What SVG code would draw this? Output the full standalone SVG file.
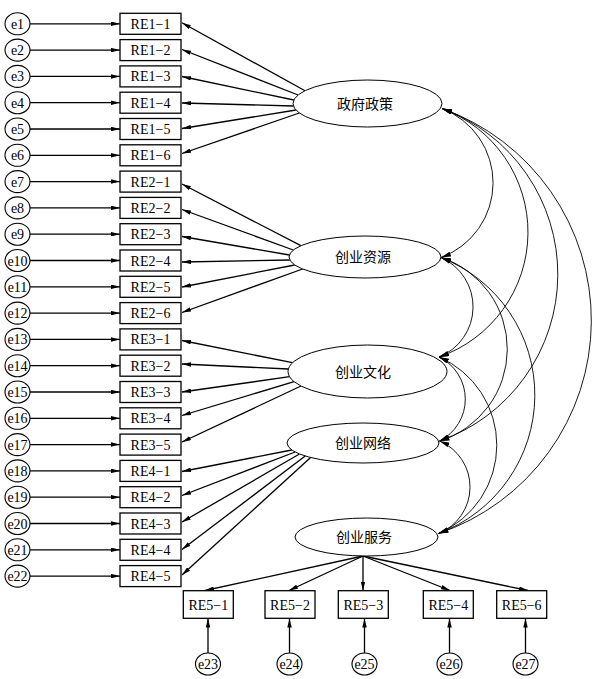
<svg xmlns="http://www.w3.org/2000/svg" width="592" height="679" viewBox="0 0 592 679">
<style>
text{font-family:"Liberation Serif","Noto Sans CJK SC",serif;font-size:14px;fill:#000;text-anchor:middle}
.cn{font-family:"Noto Sans CJK SC","Liberation Serif",sans-serif;font-size:14px}
.box{fill:#fff;stroke:#000;stroke-width:1.3}
.err{fill:#fff;stroke:#000;stroke-width:1.1}
.lat{fill:#fff;stroke:#000;stroke-width:1}
.ld{stroke:#000;stroke-width:1.3;fill:none;marker-end:url(#ah)}
.cov{stroke:#000;stroke-width:0.9;fill:none;marker-start:url(#ah2);marker-end:url(#ah2)}
</style>
<defs>
<marker id="ah" viewBox="0 0 10 5" refX="10" refY="2.5" markerWidth="9" markerHeight="4.5" markerUnits="userSpaceOnUse" orient="auto-start-reverse"><path d="M0,0 L10,2.5 L0,5 z" fill="#000"/></marker>
<marker id="ah2" viewBox="0 0 10 5" refX="10" refY="2.5" markerWidth="10" markerHeight="5" markerUnits="userSpaceOnUse" orient="auto-start-reverse"><path d="M0,0 L10,2.5 L0,5 z" fill="#000"/></marker>
</defs>
<g id="connectors">
<g id="error-arrows">
<line class="ld" x1="30" y1="23.8" x2="120" y2="23.8"/>
<line class="ld" x1="30" y1="50.1" x2="120" y2="50.1"/>
<line class="ld" x1="30" y1="76.4" x2="120" y2="76.4"/>
<line class="ld" x1="30" y1="102.7" x2="120" y2="102.7"/>
<line class="ld" x1="30" y1="129" x2="120" y2="129"/>
<line class="ld" x1="30" y1="155.3" x2="120" y2="155.3"/>
<line class="ld" x1="30" y1="181.6" x2="120" y2="181.6"/>
<line class="ld" x1="30" y1="207.9" x2="120" y2="207.9"/>
<line class="ld" x1="30" y1="234.2" x2="120" y2="234.2"/>
<line class="ld" x1="30" y1="260.5" x2="120" y2="260.5"/>
<line class="ld" x1="30" y1="286.8" x2="120" y2="286.8"/>
<line class="ld" x1="30" y1="313.1" x2="120" y2="313.1"/>
<line class="ld" x1="30" y1="339.4" x2="120" y2="339.4"/>
<line class="ld" x1="30" y1="365.7" x2="120" y2="365.7"/>
<line class="ld" x1="30" y1="392" x2="120" y2="392"/>
<line class="ld" x1="30" y1="418.3" x2="120" y2="418.3"/>
<line class="ld" x1="30" y1="444.6" x2="120" y2="444.6"/>
<line class="ld" x1="30" y1="470.9" x2="120" y2="470.9"/>
<line class="ld" x1="30" y1="497.2" x2="120" y2="497.2"/>
<line class="ld" x1="30" y1="523.5" x2="120" y2="523.5"/>
<line class="ld" x1="30" y1="549.8" x2="120" y2="549.8"/>
<line class="ld" x1="30" y1="576.1" x2="120" y2="576.1"/>
<line class="ld" x1="208" y1="653" x2="208" y2="618.5"/>
<line class="ld" x1="289.5" y1="653" x2="289.5" y2="618.5"/>
<line class="ld" x1="364.5" y1="653" x2="364.5" y2="618.5"/>
<line class="ld" x1="449.5" y1="653" x2="449.5" y2="618.5"/>
<line class="ld" x1="525.5" y1="653" x2="525.5" y2="618.5"/>
</g>
<g id="loadings">
<line class="ld" x1="305" y1="90.7" x2="182" y2="22.8"/>
<line class="ld" x1="298.1" y1="95" x2="182" y2="49.5"/>
<line class="ld" x1="293.8" y1="100" x2="182" y2="76.5"/>
<line class="ld" x1="293.4" y1="106" x2="182" y2="103"/>
<line class="ld" x1="295.9" y1="110" x2="182" y2="128.5"/>
<line class="ld" x1="299.3" y1="113" x2="182" y2="153.5"/>
<line class="ld" x1="300.9" y1="245.7" x2="182" y2="184"/>
<line class="ld" x1="293.3" y1="250" x2="182" y2="209.5"/>
<line class="ld" x1="289.4" y1="255" x2="182" y2="236.5"/>
<line class="ld" x1="289.8" y1="260" x2="182" y2="262"/>
<line class="ld" x1="294.7" y1="265" x2="182" y2="287"/>
<line class="ld" x1="302.6" y1="269" x2="182" y2="312.5"/>
<line class="ld" x1="292.5" y1="362.7" x2="182" y2="340.5"/>
<line class="ld" x1="288.3" y1="369" x2="182" y2="364"/>
<line class="ld" x1="289.6" y1="376.7" x2="182" y2="392"/>
<line class="ld" x1="294.1" y1="381.7" x2="182" y2="415.5"/>
<line class="ld" x1="301" y1="386" x2="182" y2="442"/>
<line class="ld" x1="291.8" y1="450" x2="182" y2="471.5"/>
<line class="ld" x1="295.1" y1="452" x2="182" y2="495.5"/>
<line class="ld" x1="299.5" y1="454" x2="182" y2="522"/>
<line class="ld" x1="305.2" y1="456" x2="182" y2="549.5"/>
<line class="ld" x1="310.6" y1="457.5" x2="182" y2="575"/>
<line class="ld" x1="363" y1="556" x2="205" y2="590.5"/>
<line class="ld" x1="363" y1="556" x2="289" y2="590.5"/>
<line class="ld" x1="363" y1="556" x2="363" y2="590.5"/>
<line class="ld" x1="363" y1="556" x2="450" y2="590.5"/>
<line class="ld" x1="363" y1="556" x2="528" y2="590.5"/>
</g>
<g id="covariances">
<path class="cov" d="M442,108.5 A79.6,79.6 0 0 1 441,257.5"/>
<path class="cov" d="M442,108.5 A132,132 0 0 1 439,357"/>
<path class="cov" d="M442,108.5 A176.6,176.6 0 0 1 439.5,441"/>
<path class="cov" d="M442,108.5 A225,225 0 0 1 438.5,533.5"/>
<path class="cov" d="M441,257.5 A54,54 0 0 1 439,357"/>
<path class="cov" d="M441,257.5 A96.3,96.3 0 0 1 439.5,441"/>
<path class="cov" d="M441,257.5 A147.7,147.7 0 0 1 438.5,533.5"/>
<path class="cov" d="M439,357 A46.9,46.9 0 0 1 439.5,441"/>
<path class="cov" d="M439,357 A96.1,96.1 0 0 1 438.5,533.5"/>
<path class="cov" d="M439.5,441 A50,50 0 0 1 438.5,533.5"/>
</g>
</g>
<g id="latent-政府政策"><ellipse class="lat" cx="367.5" cy="103.5" rx="74.5" ry="23.5"/><text class="cn" x="365" y="108.5">政府政策</text></g>
<g id="latent-创业资源"><ellipse class="lat" cx="365" cy="257" rx="76" ry="21"/><text class="cn" x="363" y="262">创业资源</text></g>
<g id="latent-创业文化"><ellipse class="lat" cx="367.5" cy="371.5" rx="79.5" ry="26.5"/><text class="cn" x="363" y="376.5">创业文化</text></g>
<g id="latent-创业网络"><ellipse class="lat" cx="363" cy="443" rx="76" ry="20"/><text class="cn" x="363" y="448">创业网络</text></g>
<g id="latent-创业服务"><ellipse class="lat" cx="366.5" cy="537" rx="71.5" ry="19"/><text class="cn" x="364" y="542">创业服务</text></g>
<g id="RE1-1"><rect class="box" x="120" y="13.3" width="61" height="21"/><text x="150.5" y="28.8">RE1−1</text></g>
<g id="RE1-2"><rect class="box" x="120" y="39.6" width="61" height="21"/><text x="150.5" y="55.1">RE1−2</text></g>
<g id="RE1-3"><rect class="box" x="120" y="65.9" width="61" height="21"/><text x="150.5" y="81.4">RE1−3</text></g>
<g id="RE1-4"><rect class="box" x="120" y="92.2" width="61" height="21"/><text x="150.5" y="107.7">RE1−4</text></g>
<g id="RE1-5"><rect class="box" x="120" y="118.5" width="61" height="21"/><text x="150.5" y="134">RE1−5</text></g>
<g id="RE1-6"><rect class="box" x="120" y="144.8" width="61" height="21"/><text x="150.5" y="160.3">RE1−6</text></g>
<g id="RE2-1"><rect class="box" x="120" y="171.1" width="61" height="21"/><text x="150.5" y="186.6">RE2−1</text></g>
<g id="RE2-2"><rect class="box" x="120" y="197.4" width="61" height="21"/><text x="150.5" y="212.9">RE2−2</text></g>
<g id="RE2-3"><rect class="box" x="120" y="223.7" width="61" height="21"/><text x="150.5" y="239.2">RE2−3</text></g>
<g id="RE2-4"><rect class="box" x="120" y="250" width="61" height="21"/><text x="150.5" y="265.5">RE2−4</text></g>
<g id="RE2-5"><rect class="box" x="120" y="276.3" width="61" height="21"/><text x="150.5" y="291.8">RE2−5</text></g>
<g id="RE2-6"><rect class="box" x="120" y="302.6" width="61" height="21"/><text x="150.5" y="318.1">RE2−6</text></g>
<g id="RE3-1"><rect class="box" x="120" y="328.9" width="61" height="21"/><text x="150.5" y="344.4">RE3−1</text></g>
<g id="RE3-2"><rect class="box" x="120" y="355.2" width="61" height="21"/><text x="150.5" y="370.7">RE3−2</text></g>
<g id="RE3-3"><rect class="box" x="120" y="381.5" width="61" height="21"/><text x="150.5" y="397">RE3−3</text></g>
<g id="RE3-4"><rect class="box" x="120" y="407.8" width="61" height="21"/><text x="150.5" y="423.3">RE3−4</text></g>
<g id="RE3-5"><rect class="box" x="120" y="434.1" width="61" height="21"/><text x="150.5" y="449.6">RE3−5</text></g>
<g id="RE4-1"><rect class="box" x="120" y="460.4" width="61" height="21"/><text x="150.5" y="475.9">RE4−1</text></g>
<g id="RE4-2"><rect class="box" x="120" y="486.7" width="61" height="21"/><text x="150.5" y="502.2">RE4−2</text></g>
<g id="RE4-3"><rect class="box" x="120" y="513" width="61" height="21"/><text x="150.5" y="528.5">RE4−3</text></g>
<g id="RE4-4"><rect class="box" x="120" y="539.3" width="61" height="21"/><text x="150.5" y="554.8">RE4−4</text></g>
<g id="RE4-5"><rect class="box" x="120" y="565.6" width="61" height="21"/><text x="150.5" y="581.1">RE4−5</text></g>
<g id="RE5-1"><rect class="box" x="183.3" y="590.7" width="50" height="27.6"/><text x="208.3" y="609.5">RE5−1</text></g>
<g id="RE5-2"><rect class="box" x="265" y="590.7" width="50" height="27.6"/><text x="290" y="609.5">RE5−2</text></g>
<g id="RE5-3"><rect class="box" x="338.3" y="590.7" width="50" height="27.6"/><text x="363.3" y="609.5">RE5−3</text></g>
<g id="RE5-4"><rect class="box" x="423.3" y="590.7" width="50" height="27.6"/><text x="448.3" y="609.5">RE5−4</text></g>
<g id="RE5-6"><rect class="box" x="496.7" y="590.7" width="50" height="27.6"/><text x="521.7" y="609.5">RE5−6</text></g>
<g id="e1"><ellipse class="err" cx="17.5" cy="23.8" rx="12.5" ry="11"/><text x="17.5" y="28.8">e1</text></g>
<g id="e2"><ellipse class="err" cx="17.5" cy="50.1" rx="12.5" ry="11"/><text x="17.5" y="55.1">e2</text></g>
<g id="e3"><ellipse class="err" cx="17.5" cy="76.4" rx="12.5" ry="11"/><text x="17.5" y="81.4">e3</text></g>
<g id="e4"><ellipse class="err" cx="17.5" cy="102.7" rx="12.5" ry="11"/><text x="17.5" y="107.7">e4</text></g>
<g id="e5"><ellipse class="err" cx="17.5" cy="129" rx="12.5" ry="11"/><text x="17.5" y="134">e5</text></g>
<g id="e6"><ellipse class="err" cx="17.5" cy="155.3" rx="12.5" ry="11"/><text x="17.5" y="160.3">e6</text></g>
<g id="e7"><ellipse class="err" cx="17.5" cy="181.6" rx="12.5" ry="11"/><text x="17.5" y="186.6">e7</text></g>
<g id="e8"><ellipse class="err" cx="17.5" cy="207.9" rx="12.5" ry="11"/><text x="17.5" y="212.9">e8</text></g>
<g id="e9"><ellipse class="err" cx="17.5" cy="234.2" rx="12.5" ry="11"/><text x="17.5" y="239.2">e9</text></g>
<g id="e10"><ellipse class="err" cx="17.5" cy="260.5" rx="12.5" ry="11"/><text x="17.5" y="265.5">e10</text></g>
<g id="e11"><ellipse class="err" cx="17.5" cy="286.8" rx="12.5" ry="11"/><text x="17.5" y="291.8">e11</text></g>
<g id="e12"><ellipse class="err" cx="17.5" cy="313.1" rx="12.5" ry="11"/><text x="17.5" y="318.1">e12</text></g>
<g id="e13"><ellipse class="err" cx="17.5" cy="339.4" rx="12.5" ry="11"/><text x="17.5" y="344.4">e13</text></g>
<g id="e14"><ellipse class="err" cx="17.5" cy="365.7" rx="12.5" ry="11"/><text x="17.5" y="370.7">e14</text></g>
<g id="e15"><ellipse class="err" cx="17.5" cy="392" rx="12.5" ry="11"/><text x="17.5" y="397">e15</text></g>
<g id="e16"><ellipse class="err" cx="17.5" cy="418.3" rx="12.5" ry="11"/><text x="17.5" y="423.3">e16</text></g>
<g id="e17"><ellipse class="err" cx="17.5" cy="444.6" rx="12.5" ry="11"/><text x="17.5" y="449.6">e17</text></g>
<g id="e18"><ellipse class="err" cx="17.5" cy="470.9" rx="12.5" ry="11"/><text x="17.5" y="475.9">e18</text></g>
<g id="e19"><ellipse class="err" cx="17.5" cy="497.2" rx="12.5" ry="11"/><text x="17.5" y="502.2">e19</text></g>
<g id="e20"><ellipse class="err" cx="17.5" cy="523.5" rx="12.5" ry="11"/><text x="17.5" y="528.5">e20</text></g>
<g id="e21"><ellipse class="err" cx="17.5" cy="549.8" rx="12.5" ry="11"/><text x="17.5" y="554.8">e21</text></g>
<g id="e22"><ellipse class="err" cx="17.5" cy="576.1" rx="12.5" ry="11"/><text x="17.5" y="581.1">e22</text></g>
<g id="e23"><ellipse class="err" cx="208" cy="664" rx="12.5" ry="11"/><text x="208" y="669">e23</text></g>
<g id="e24"><ellipse class="err" cx="289.5" cy="664" rx="12.5" ry="11"/><text x="289.5" y="669">e24</text></g>
<g id="e25"><ellipse class="err" cx="364.5" cy="664" rx="12.5" ry="11"/><text x="364.5" y="669">e25</text></g>
<g id="e26"><ellipse class="err" cx="449.5" cy="664" rx="12.5" ry="11"/><text x="449.5" y="669">e26</text></g>
<g id="e27"><ellipse class="err" cx="525.5" cy="664" rx="12.5" ry="11"/><text x="525.5" y="669">e27</text></g>
</svg>
